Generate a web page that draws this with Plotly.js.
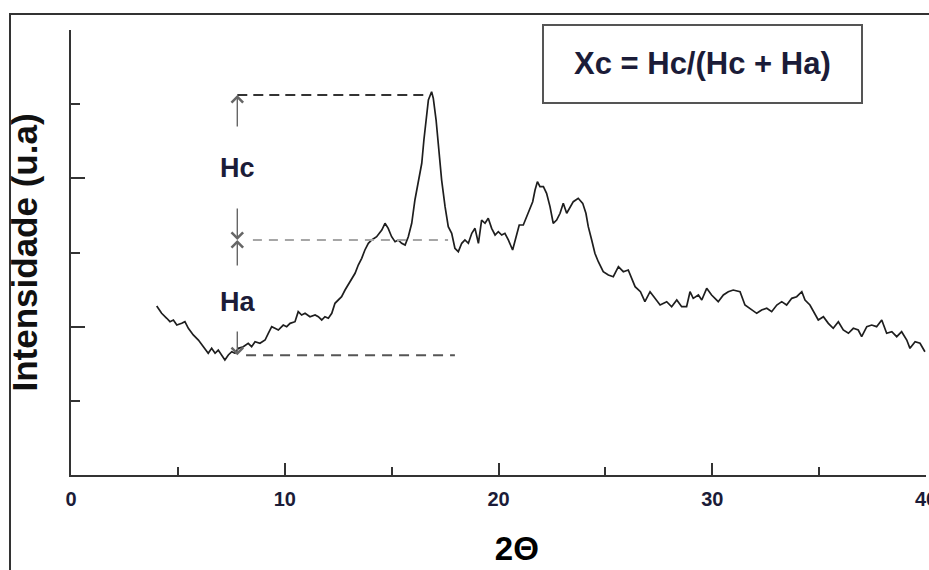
<!DOCTYPE html>
<html>
<head>
<meta charset="utf-8">
<script src="https://cdn.plot.ly/plotly-3.0.1.min.js"></script>
<style>html,body{margin:0;padding:0;background:#fff;}#chart{width:929px;height:570px;}</style>
</head>
<body>
<div id="chart"></div>
<script>
// 2θ values (degrees)
const twoTheta = [4.01,4.24,4.48,4.63,4.79,4.95,5.18,5.33,5.49,5.72,5.96,6.19,6.42,6.58,6.74,6.89,7.05,7.20,7.36,7.52,7.67,7.83,8.06,8.29,8.45,8.61,8.84,9.08,9.23,9.39,9.54,9.70,9.93,10.09,10.25,10.48,10.63,10.79,10.95,11.18,11.42,11.57,11.73,11.88,12.04,12.20,12.35,12.51,12.66,12.82,12.97,13.13,13.29,13.44,13.60,13.75,13.91,14.07,14.30,14.54,14.69,14.84,15.00,15.16,15.31,15.47,15.63,15.78,15.94,16.09,16.25,16.41,16.51,16.64,16.72,16.87,16.95,17.08,17.18,17.34,17.50,17.65,17.81,17.96,18.12,18.28,18.43,18.59,18.75,18.90,19.06,19.21,19.37,19.52,19.68,19.84,19.99,20.15,20.30,20.46,20.66,20.82,20.97,21.16,21.32,21.47,21.60,21.71,21.82,21.94,22.10,22.25,22.41,22.56,22.72,22.88,23.03,23.19,23.35,23.50,23.73,23.94,24.09,24.20,24.36,24.51,24.67,24.90,25.14,25.37,25.61,25.84,26.07,26.23,26.39,26.64,26.85,27.09,27.32,27.56,27.87,28.10,28.34,28.57,28.80,28.96,29.11,29.35,29.51,29.74,29.97,30.28,30.52,30.75,30.98,31.30,31.53,31.77,32.08,32.31,32.55,32.78,33.02,33.25,33.48,33.72,33.95,34.19,34.34,34.57,34.73,34.96,35.20,35.43,35.66,35.90,36.13,36.37,36.60,36.83,36.99,37.23,37.46,37.69,37.93,38.16,38.40,38.63,38.86,39.10,39.25,39.49,39.72,39.95];
// intensity (arbitrary units)
const intensity = [227.9,218.0,211.3,206.7,209.0,202.2,204.5,206.7,197.8,188.8,182.0,173.0,164.1,170.8,164.1,168.5,161.8,155.1,161.8,166.2,164.1,170.8,173.0,177.6,173.0,179.7,177.6,182.0,191.1,200.0,197.8,195.5,202.2,200.0,204.5,206.7,220.2,215.7,218.0,213.4,215.7,213.4,209.0,213.4,211.3,218.0,231.5,236.0,240.4,249.4,256.2,262.9,272.0,283.1,292.2,303.4,312.4,316.9,321.3,330.3,339.4,332.6,321.3,314.6,316.9,312.4,310.1,321.3,339.4,370.8,397.7,420.3,451.7,483.1,505.6,516.8,507.9,478.6,442.7,397.7,361.8,334.8,325.9,305.7,301.1,312.4,316.9,312.4,325.9,332.6,312.4,343.8,339.4,346.1,332.6,323.6,328.0,323.6,325.9,316.9,303.4,321.3,337.1,337.1,348.3,359.6,368.5,384.3,395.5,388.7,388.7,379.8,361.8,339.4,343.8,352.9,366.3,352.9,361.8,368.5,373.1,366.3,352.9,334.8,316.9,298.9,287.6,274.1,269.7,267.4,280.9,274.1,276.4,265.2,253.9,247.1,233.7,247.1,238.2,229.2,233.7,226.9,236.0,226.9,226.9,247.1,238.2,242.7,236.0,251.7,242.7,233.7,242.7,247.1,249.4,247.1,229.2,224.8,218.0,222.5,224.8,220.2,229.2,233.7,229.2,238.2,240.4,247.1,236.0,229.2,220.2,209.0,213.4,204.5,197.8,206.7,195.5,191.1,197.8,195.5,186.5,200.0,202.2,200.0,209.0,191.1,193.2,186.5,193.2,182.0,170.8,179.7,177.6,166.2];
// x tick labels
const xTickVals = [0, 10, 20, 30, 40];
const xTickText = ["0", "10", "20", "30", "40"];
// construction marks: Hc / Ha heights
const markX = 7.78;
const peakLevel = 512.4;
const midLevel = 316.9;
const baseLevel = 161.5;
const labels = ["Hc", "Ha"];
const labelY = [413.9, 233.3];
const formula = "Xc = Hc/(Hc + Ha)";

const textColor = "#1b1c38";
const fontFam = 'Arial, "Liberation Sans", sans-serif';

const trace = {
  x: twoTheta, y: intensity, type: "scatter", mode: "lines",
  line: {color: "#1e1e1e", width: 1.7}, hoverinfo: "skip", showlegend: false
};

// paper coordinate helpers (plot area 71..926 x, 30..475 y)
const L = 71, R = 926, T = 30, B = 475;
const px = v => (v - L) / (R - L);
const py = v => (B - v) / (B - T);

const shapes = [
  // outer frame (top and left edges)
  {type: "line", xref: "paper", yref: "paper", x0: px(9), x1: px(935), y0: py(14), y1: py(14), line: {color: "#333", width: 2}},
  {type: "line", xref: "paper", yref: "paper", x0: px(10), x1: px(10), y0: py(13), y1: py(580), line: {color: "#333", width: 2}},
  // formula box
  {type: "rect", xref: "paper", yref: "paper", x0: px(543), x1: px(862), y0: py(103), y1: py(25), line: {color: "#555", width: 2}, fillcolor: "#fff"},
  // dashed levels
  {type: "line", xref: "x", yref: "y", x0: markX, x1: 16.75, y0: peakLevel, y1: peakLevel, line: {color: "#333", width: 2, dash: "10px,6px"}},
  {type: "line", xref: "x", yref: "y", x0: 8.51, x1: 17.64, y0: midLevel, y1: midLevel, line: {color: "#a6a6a6", width: 2, dash: "9px,7px"}},
  {type: "line", xref: "x", yref: "y", x0: 8.19, x1: 17.96, y0: baseLevel, y1: baseLevel, line: {color: "#555", width: 2, dash: "10px,7px"}}
];

const arrow = (yHead, yTail) => ({
  x: markX, y: yHead, ax: markX, ay: yTail, axref: "x", ayref: "y", xref: "x", yref: "y",
  text: "", showarrow: true, arrowhead: 4, arrowsize: 1.6, arrowwidth: 1.4, arrowcolor: "#666", standoff: 0, startstandoff: 0
});

const annotations = [
  arrow(peakLevel, 467.9),
  arrow(midLevel, 361.3),
  arrow(midLevel, 280.4),
  arrow(baseLevel, 195.5),
  {x: markX, y: labelY[0], xref: "x", yref: "y", text: labels[0], showarrow: false,
   xanchor: "center", yanchor: "middle",
   font: {family: fontFam, size: 27, color: textColor, weight: "bold"}},
  {x: markX, y: labelY[1], xref: "x", yref: "y", text: labels[1], showarrow: false,
   xanchor: "center", yanchor: "middle",
   font: {family: fontFam, size: 27, color: textColor, weight: "bold"}},
  {x: px(702.5), y: py(63), xref: "paper", yref: "paper", text: formula, showarrow: false,
   xanchor: "center", yanchor: "middle",
   font: {family: fontFam, size: 31, color: textColor, weight: "bold"}}
];

const layout = {
  width: 929, height: 570,
  margin: {l: 71, r: 3, t: 30, b: 95, pad: 0},
  paper_bgcolor: "#fff", plot_bgcolor: "#fff",
  showlegend: false,
  xaxis: {
    range: [0, 40], showgrid: false, zeroline: false,
    showline: true, linecolor: "#333", linewidth: 2,
    ticks: "inside", ticklen: 12, tickwidth: 2, tickcolor: "#333",
    tickmode: "array", tickvals: xTickVals, ticktext: xTickText,
    ticklabeloverflow: "allow", ticklabelstandoff: 5,
    tickfont: {family: fontFam, size: 20, color: textColor, weight: "bold"},
    minor: {ticks: "inside", dtick: 5, ticklen: 8, tickwidth: 2, tickcolor: "#333", showgrid: false},
    title: {text: "\u200B\u00a0\u00a0\u00a0\u00a02Θ", standoff: 28, font: {family: fontFam, size: 33, color: "#000", weight: "bold"}}
  },
  yaxis: {
    range: [0, 600], showgrid: false, zeroline: false,
    showline: true, linecolor: "#333", linewidth: 2,
    ticks: "inside", ticklen: 14, tickwidth: 2, tickcolor: "#333",
    dtick: 200, showticklabels: false,
    minor: {ticks: "inside", dtick: 100, ticklen: 9, tickwidth: 2, tickcolor: "#333", showgrid: false},
    title: {text: "Intensidade (u.a)", standoff: 21, font: {family: fontFam, size: 35, color: "#111", weight: "bold"}}
  },
  shapes: shapes,
  annotations: annotations
};

Plotly.newPlot("chart", [trace], layout, {displayModeBar: false, staticPlot: true});
</script>
</body>
</html>
